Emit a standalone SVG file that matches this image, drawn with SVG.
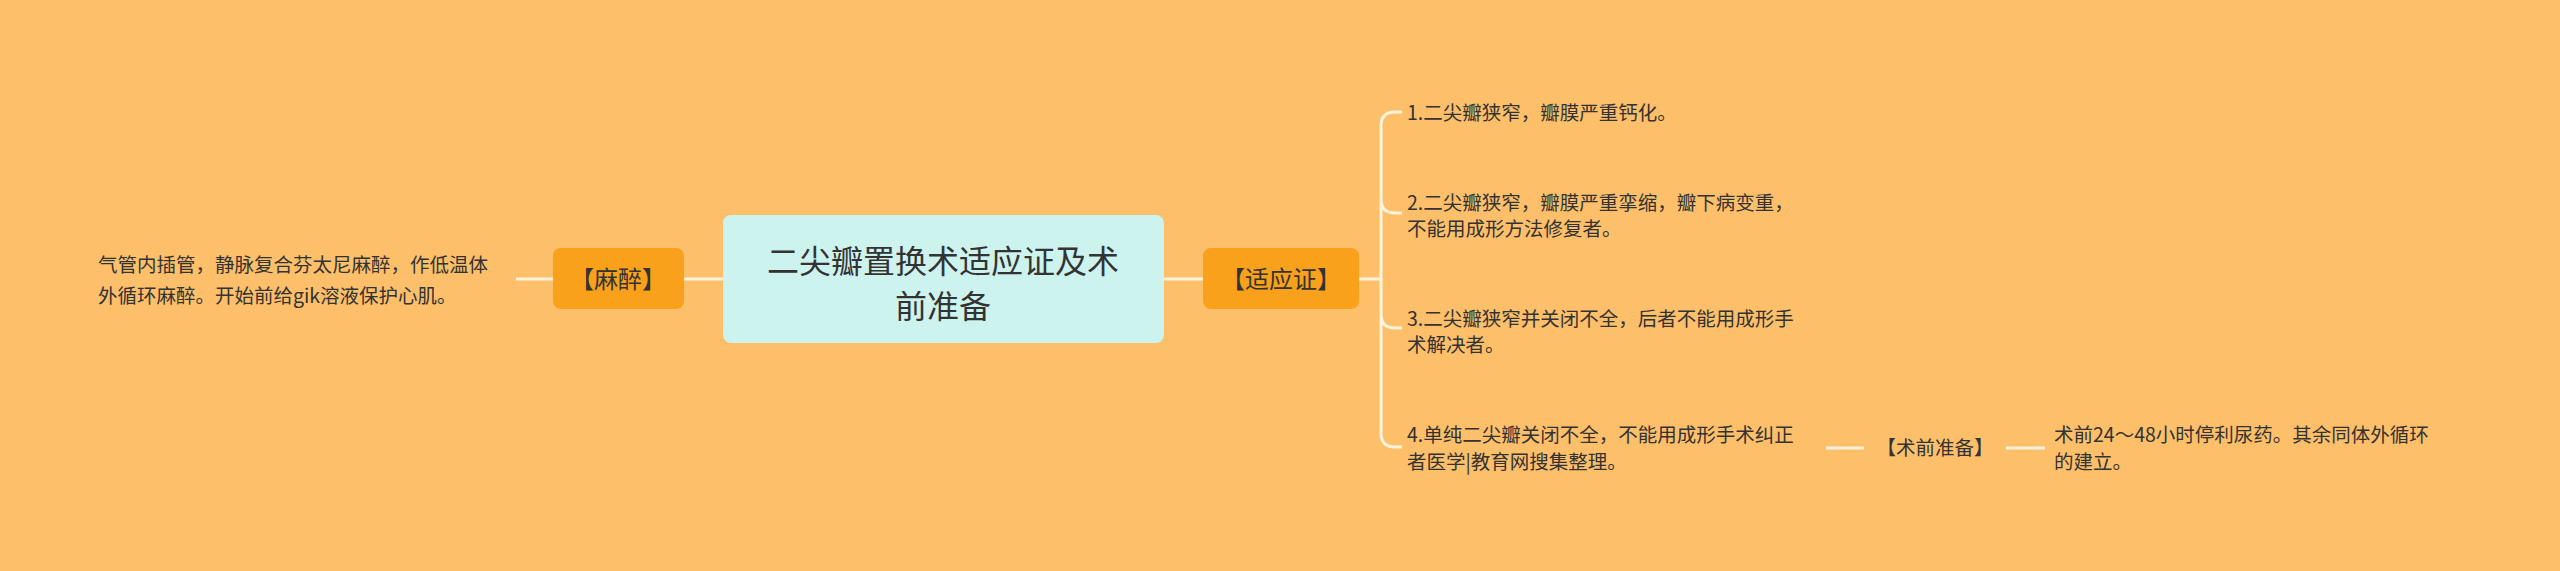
<svg xmlns="http://www.w3.org/2000/svg" width="2560" height="571" viewBox="0 0 2560 571">
<style>
text{font-family:"Noto Sans CJK SC","Liberation Sans",sans-serif;fill:#333}
.t{font-size:19.5px}
.o{fill:#f9a11b;}
.c{fill:none;stroke:#fff3dc;stroke-width:3}
</style>
<rect width="2560" height="571" fill="#fdbf6a"/>
<g id="connectors">
<path class="c" d="M516 279H553M684 279H723M1164 279H1203M1359 279H1381"/>
<path class="c" d="M1395 112Q1381 112 1381 126V433Q1381 447 1395 447H1402M1402 112H1395M1381 199Q1381 213 1395 213H1402M1381 314Q1381 328 1395 328H1402"/>
<path class="c" d="M1826 448H1864M2006 448H2045"/>
</g>
<g id="center"><rect x="723" y="215" width="441" height="128" rx="8" fill="#cdf3ef"/>
<text x="943" y="273" font-size="32" text-anchor="middle">二尖瓣置换术适应证及术</text>
<text x="943" y="318" font-size="32" text-anchor="middle">前准备</text></g>
<g id="mazui"><rect class="o" x="553" y="248" width="131" height="61" rx="8"/><text x="618" y="288" font-size="24" text-anchor="middle">【麻醉】</text></g>
<g id="mazui-text"><text class="t" x="98" y="272">气管内插管，静脉复合芬太尼麻醉，作低温体</text><text class="t" x="98" y="303">外循环麻醉。开始前给gik溶液保护心肌。</text></g>
<g id="shiying"><rect class="o" x="1203" y="248" width="156" height="61" rx="8"/><text x="1281" y="288" font-size="24" text-anchor="middle">【适应证】</text></g>
<g id="c1"><text class="t" x="1407" y="120">1.二尖瓣狭窄，瓣膜严重钙化。</text></g>
<g id="c2"><text class="t" x="1407" y="210">2.二尖瓣狭窄，瓣膜严重挛缩，瓣下病变重，</text><text class="t" x="1407" y="236">不能用成形方法修复者。</text></g>
<g id="c3"><text class="t" x="1407" y="326">3.二尖瓣狭窄并关闭不全，后者不能用成形手</text><text class="t" x="1407" y="352">术解决者。</text></g>
<g id="c4"><text class="t" x="1407" y="442">4.单纯二尖瓣关闭不全，不能用成形手术纠正</text><text class="t" x="1407" y="469">者医学|教育网搜集整理。</text></g>
<g id="shuqian"><text class="t" x="1935" y="455" text-anchor="middle">【术前准备】</text></g>
<g id="shuqian-text"><text class="t" x="2054" y="442">术前24～48小时停利尿药。其余同体外循环</text><text class="t" x="2054" y="469">的建立。</text></g>
</svg>
